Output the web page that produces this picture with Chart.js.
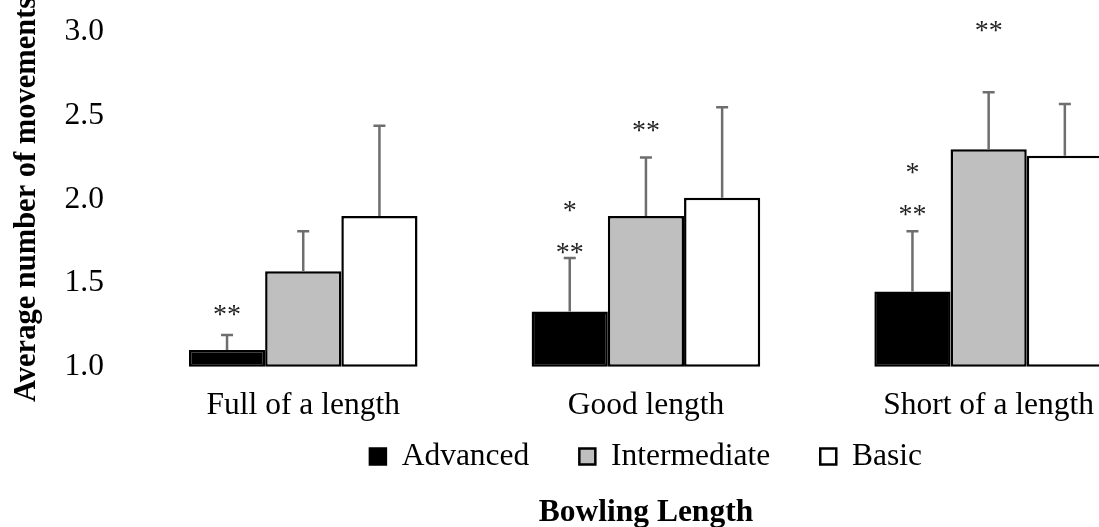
<!DOCTYPE html>
<html>
<head>
<meta charset="utf-8">
<script src="https://cdn.jsdelivr.net/npm/chart.js@4"></script>
<style>
  html, body { margin: 0; padding: 0; background: #fff; overflow: hidden; }
  #wrap { width: 1160px; height: 527px; position: relative; }
</style>
</head>
<body>
<div id="wrap"><canvas id="chart"></canvas></div>
<script>
// ---- Data ----
const categories   = ['Full of a length', 'Good length', 'Short of a length'];
const seriesNames  = ['Advanced', 'Intermediate', 'Basic'];
const advanced     = [1.10, 1.33, 1.45];
const intermediate = [1.57, 1.90, 2.30];
const basic        = [1.90, 2.01, 2.26];
// upper error bar length (SD)
const advancedErr     = [0.09, 0.32, 0.36];
const intermediateErr = [0.24, 0.35, 0.34];
const basicErr        = [0.54, 0.54, 0.31];
// significance markers: series index, category index, text, level (y value)
const sigSeries   = [0, 0, 0, 1, 0, 0, 1];
const sigCategory = [0, 1, 1, 1, 2, 2, 2];
const sigText     = ['**', '**', '*', '**', '**', '*', '**'];
const sigLevel    = [1.32, 1.69, 1.94, 2.42, 1.92, 2.17, 3.02];
const yTicks      = [1.0, 1.5, 2.0, 2.5, 3.0];

const FONT = "'Liberation Serif', 'Times New Roman', serif";
const FS = 31.5;

const errors = [advancedErr, intermediateErr, basicErr];

// ---- Error bars + asterisks ----
const errorBarPlugin = {
  id: 'errorBars',
  afterDatasetsDraw(chart) {
    const ctx = chart.ctx;
    const y = chart.scales.y;
    ctx.save();
    ctx.strokeStyle = '#6e6e6e';
    ctx.lineWidth = 2.5;
    chart.data.datasets.forEach((ds, di) => {
      const meta = chart.getDatasetMeta(di);
      meta.data.forEach((bar, i) => {
        const top = y.getPixelForValue(ds.data[i] + errors[di][i]);
        ctx.beginPath();
        ctx.moveTo(bar.x, bar.y);
        ctx.lineTo(bar.x, top);
        ctx.moveTo(bar.x - 6, top);
        ctx.lineTo(bar.x + 6, top);
        ctx.stroke();
      });
    });
    ctx.fillStyle = '#222';
    ctx.font = '28px ' + FONT;
    ctx.textAlign = 'center';
    ctx.textBaseline = 'alphabetic';
    sigText.forEach((t, k) => {
      const bar = chart.getDatasetMeta(sigSeries[k]).data[sigCategory[k]];
      const py = y.getPixelForValue(sigLevel[k]);
      ctx.fillText(t, bar.x, py + 10);
    });
    ctx.restore();
  }
};

const barStyle = {
  base: 1,
  borderColor: '#000',
  borderWidth: 2.5,
  borderSkipped: false,
  categoryPercentage: 0.667,
  barPercentage: 1,
  clip: false
};

new Chart(document.getElementById('chart'), {
  type: 'bar',
  data: {
    labels: categories,
    datasets: [
      { label: seriesNames[0], data: advanced,     backgroundColor: '#000',    ...barStyle },
      { label: seriesNames[1], data: intermediate, backgroundColor: '#bfbfbf', ...barStyle },
      { label: seriesNames[2], data: basic,        backgroundColor: '#fff',    ...barStyle }
    ]
  },
  options: {
    responsive: true,
    maintainAspectRatio: false,
    animation: false,
    events: [],
    layout: { padding: { top: 32, left: 0, right: 0, bottom: 0 } },
    plugins: {
      legend: {
        position: 'bottom',
        fullSize: false,
        labels: {
          boxWidth: 16,
          boxHeight: 16,
          padding: 50,
          color: '#000',
          font: { family: FONT, size: FS }
        }
      },
      title: {
        display: true,
        position: 'bottom',
        fullSize: false,
        text: 'Bowling Length',
        color: '#000',
        padding: { top: 12, bottom: -5 },
        font: { family: FONT, size: FS, weight: 'bold' }
      },
      tooltip: { enabled: false }
    },
    scales: {
      x: {
        grid: { display: false },
        border: { display: false },
        ticks: { color: '#000', padding: 12, font: { family: FONT, size: FS } },
        // keep the axis box short; labels hang into the legend's top padding
        afterFit: s => {
          s.height = 24;
          s._computeLabelArea = () => undefined;
        }
      },
      y: {
        min: 1,
        max: 3,
        afterBuildTicks: s => { s.ticks = yTicks.map(v => ({ value: v })); },
        // top of plot set by layout padding, not by tick padding
        afterFit: s => { s.paddingTop = 0; },
        grid: { display: false, drawTicks: false },
        border: { display: false },
        ticks: {
          color: '#000',
          padding: 28,
          font: { family: FONT, size: FS },
          callback: v => Number(v).toFixed(1)
        },
        title: {
          display: true,
          text: 'Average number of movements',
          color: '#000',
          padding: { top: 12, bottom: -6 },
          font: { family: FONT, size: 30.5, weight: 'bold', lineHeight: 1 }
        }
      }
    }
  },
  plugins: [errorBarPlugin]
});
</script>
</body>
</html>
